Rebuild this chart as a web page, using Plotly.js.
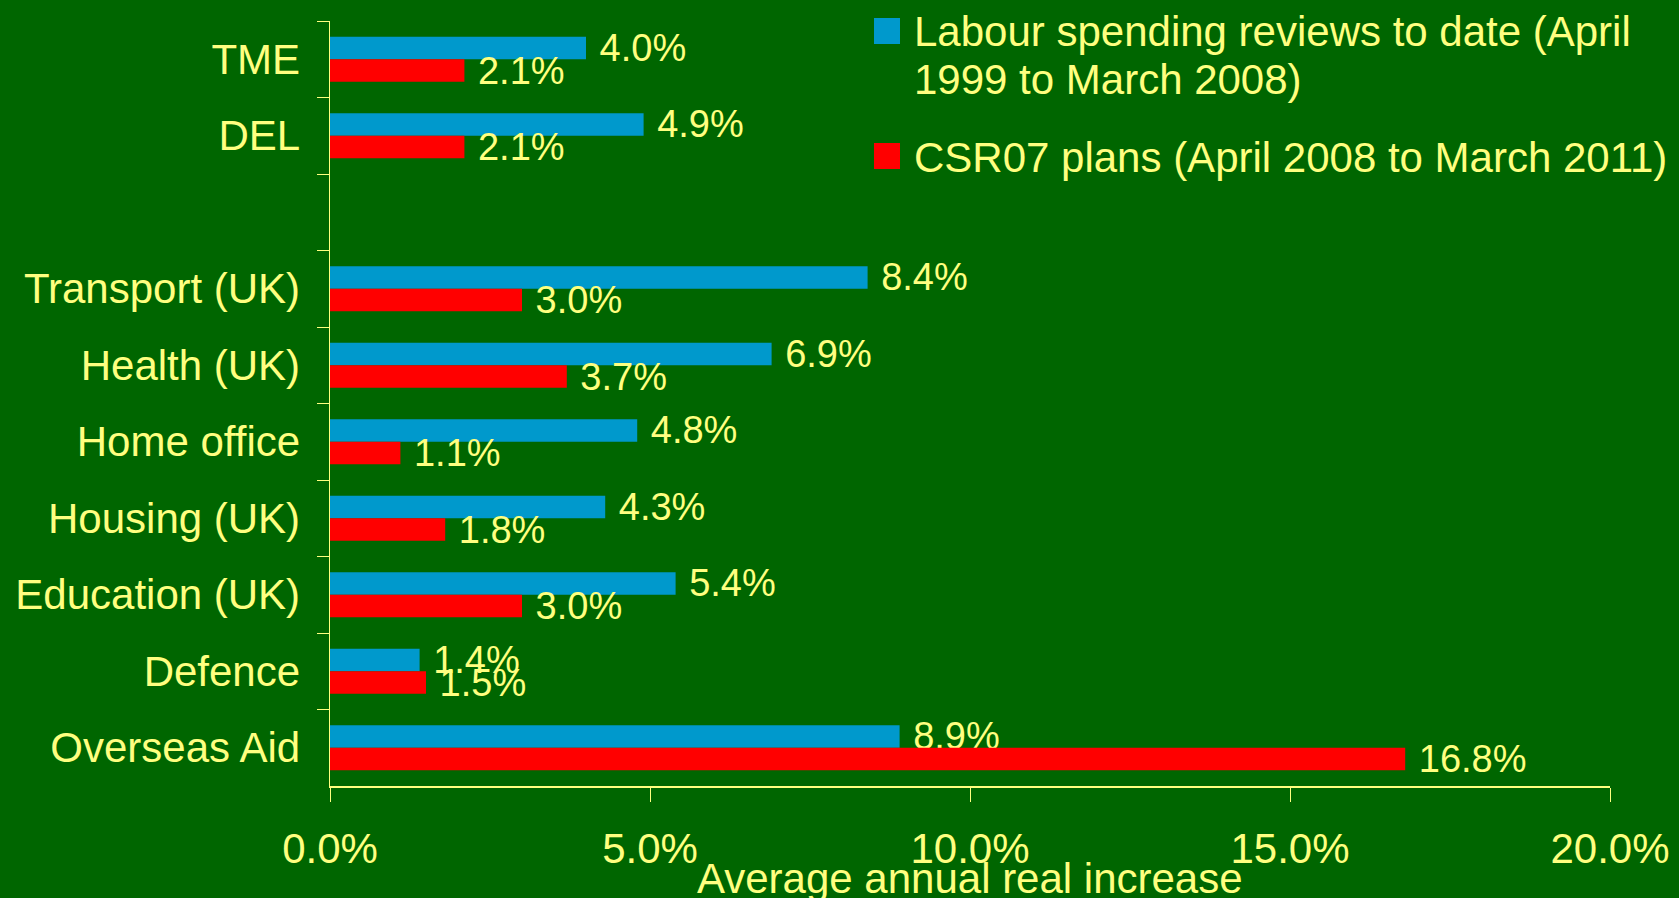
<!DOCTYPE html>
<html>
<head>
<meta charset="utf-8">
<script src="https://cdn.plot.ly/plotly-3.0.1.min.js"></script>
<style>html,body{margin:0;padding:0;background:#006600;}#chart{width:1679px;height:898px;}</style>
</head>
<body>
<div id="chart"></div>
<script>
// ---- data ----
var categories = ["TME", "DEL", " ", "Transport (UK)", "Health (UK)", "Home office", "Housing (UK)", "Education (UK)", "Defence", "Overseas Aid"];
var labourValues = [4.0, 4.9, null, 8.4, 6.9, 4.8, 4.3, 5.4, 1.4, 8.9];
var csrValues = [2.1, 2.1, null, 3.0, 3.7, 1.1, 1.8, 3.0, 1.5, 16.8];
var seriesNames = ["Labour spending reviews to date (April", "1999 to March 2008)", "CSR07 plans (April 2008 to March 2011)"];
var xTickVals = [0, 5, 10, 15, 20];
var xTickText = ["0.0%", "5.0%", "10.0%", "15.0%", "20.0%"];
var xTitle = "Average annual real increase";

// ---- style ----
var W = 1679, H = 898;
var M = {l: 330, r: 69, t: 21, b: 112};
var FONT = "Liberation Sans, Arial, sans-serif";
var YEL = "#FFFF80";
var BLUE = "#0099CC";
var RED = "#FF0000";
var GREEN = "#006600";
var plotW = W - M.l - M.r, plotH = H - M.t - M.b;
function px(x) { return (x - M.l) / plotW; }
function py(y) { return (H - M.b - y) / plotH; }

function labels(vals) {
  return vals.map(function (v) { return v === null ? "" : " " + v.toFixed(1) + "%"; });
}

var traces = [
  {type: "bar", orientation: "h", name: seriesNames[0] + " " + seriesNames[1], y: categories, x: labourValues,
   marker: {color: BLUE}, text: labels(labourValues), textposition: "outside", constraintext: "none",
   textfont: {family: FONT, size: 38, color: YEL}, cliponaxis: false, hoverinfo: "none"},
  {type: "bar", orientation: "h", name: seriesNames[2], y: categories, x: csrValues,
   marker: {color: RED}, text: labels(csrValues), textposition: "outside", constraintext: "none",
   textfont: {family: FONT, size: 38, color: YEL}, cliponaxis: false, hoverinfo: "none"}
];

var legendAnn = [
  {text: seriesNames[0], y: 32},
  {text: seriesNames[1], y: 80},
  {text: seriesNames[2], y: 157}
].map(function (a) {
  return {xref: "paper", yref: "paper", x: px(912), y: py(a.y), xanchor: "left", yanchor: "middle",
          text: a.text, showarrow: false, font: {family: FONT, size: 42, color: YEL}};
});

var titleAnn = {xref: "paper", yref: "paper", x: 0.5, y: py(878), xanchor: "center", yanchor: "middle",
                text: xTitle, showarrow: false, font: {family: FONT, size: 42, color: YEL}};

var layout = {
  width: W, height: H,
  margin: M,
  paper_bgcolor: GREEN, plot_bgcolor: GREEN,
  showlegend: false,
  barmode: "group", bargap: 0.41, bargroupgap: 0,
  font: {family: FONT, size: 42, color: YEL},
  xaxis: {
    range: [0, 20], tickvals: xTickVals, ticktext: xTickText,
    showgrid: false, zeroline: false,
    showline: true, linecolor: YEL, linewidth: 2,
    ticks: "outside", ticklen: 14, tickcolor: YEL, tickwidth: 1,
    ticklabelstandoff: 11,
    tickfont: {family: FONT, size: 42, color: YEL},
    automargin: false, fixedrange: true
  },
  yaxis: {
    type: "category", categoryorder: "array", categoryarray: categories,
    autorange: "reversed",
    showgrid: false, zeroline: false,
    showline: true, linecolor: YEL, linewidth: 1.5,
    ticks: "outside", tickson: "boundaries", ticklen: 12, tickcolor: YEL, tickwidth: 1,
    ticklabelstandoff: 20,
    tickfont: {family: FONT, size: 42, color: YEL},
    automargin: false, fixedrange: true
  },
  shapes: [
    {type: "rect", xref: "paper", yref: "paper", x0: px(874), x1: px(900), y0: py(18), y1: py(44),
     fillcolor: BLUE, line: {width: 0}},
    {type: "rect", xref: "paper", yref: "paper", x0: px(874), x1: px(900), y0: py(143), y1: py(169),
     fillcolor: RED, line: {width: 0}}
  ],
  annotations: legendAnn.concat([titleAnn])
};

Plotly.newPlot("chart", traces, layout, {staticPlot: true, displayModeBar: false});
</script>
</body>
</html>
